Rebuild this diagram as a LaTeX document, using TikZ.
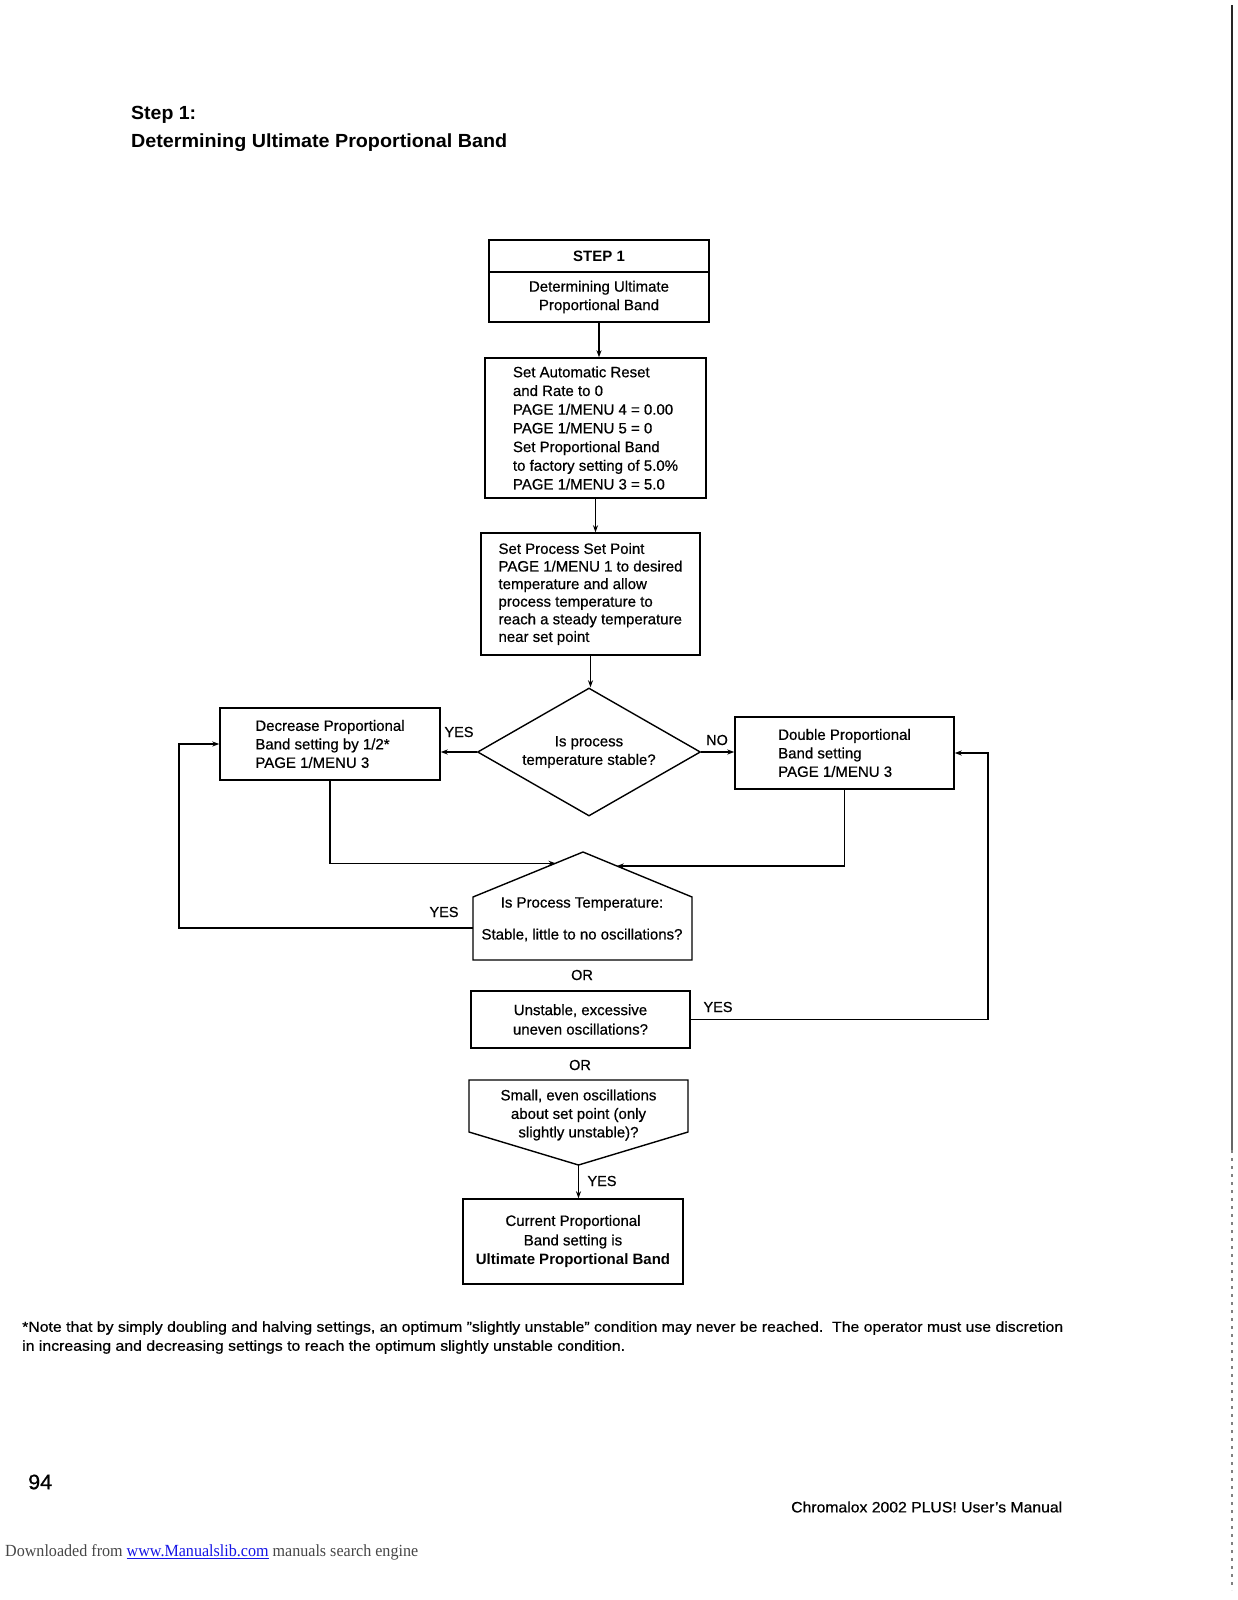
\documentclass[tikz,border=0pt]{standalone}
\usepackage{graphicx}
\usepackage{fontspec}
\setmainfont{Liberation Sans}[UprightFeatures={FakeBold=0.6}]
\newfontfamily\serifdl{Liberation Serif}
\usetikzlibrary{shapes.geometric,arrows.meta,calc}
\definecolor{linkblue}{RGB}{20,20,230}
\definecolor{dlgray}{RGB}{70,70,70}
\begin{document}
\begin{tikzpicture}[x=1pt,y=-1pt,
  every node/.style={inner sep=0pt, font=\fontsize{15}{18.5}\selectfont},
  box/.style={draw, line width=1.4pt, align=left},
  cbox/.style={draw, line width=1.4pt, align=center},
  lbl/.style={font=\fontsize{14.5}{16}\selectfont},
  conn/.style={line width=1.4pt, line join=miter},
  arr/.style={line width=1.4pt, -{Stealth[length=7pt,width=5pt]}},
  txt/.style={anchor=west},
]
\useasboundingbox (0,0) rectangle (1237,1600);

% title
\node[txt] (t1) at (131,115) {\resizebox{65pt}{\height}{\fontsize{19}{22}\selectfont\bfseries Step 1:}};
\node[txt] (t2) at (131,143) {\resizebox{376pt}{\height}{\fontsize{19}{22}\selectfont\bfseries Determining Ultimate Proportional Band}};

% step 1 box
\node[cbox, minimum width=220pt, minimum height=32pt, font=\fontsize{15}{18.5}\selectfont\bfseries] (s1a) at (599,256) {STEP 1};
\node[cbox, minimum width=220pt, minimum height=50pt] (s1b) at (599,297) {Determining Ultimate\\Proportional Band};

\node[box, minimum width=221pt, minimum height=140pt, font=\fontsize{15}{18.7}\selectfont] (set) at (595.5,428)
 {Set Automatic Reset\\and Rate to 0\\PAGE 1/MENU 4 = 0.00\\PAGE 1/MENU 5 = 0\\Set Proportional Band\\to factory setting of 5.0\%\\PAGE 1/MENU 3 = 5.0};

\node[box, minimum width=219pt, minimum height=122pt, font=\fontsize{15}{17.6}\selectfont] (proc) at (590.5,594)
 {Set Process Set Point\\PAGE 1/MENU 1 to desired\\temperature and allow\\process temperature to\\reach a steady temperature\\near set point};

\node[draw, diamond, aspect=1.74, line width=1.4pt, minimum width=223pt, minimum height=128pt, align=center] (dia) at (589,752)
 {Is process\\temperature stable?};

\node[box, minimum width=220pt, minimum height=72pt] (dec) at (330,744)
 {Decrease Proportional\\Band setting by 1/2*\\PAGE 1/MENU 3};

\node[box, minimum width=219pt, minimum height=72pt] (dbl) at (844.5,753)
 {Double Proportional\\Band setting\\PAGE 1/MENU 3};

% pentagon (house)
\coordinate (pA) at (583,852);
\coordinate (pL) at (473,897);
\coordinate (pBL) at (473,960);
\coordinate (pBR) at (692,960);
\coordinate (pR) at (692,897);
\draw[conn] (pA) -- (pL) -- (pBL) -- (pBR) -- (pR) -- cycle;
\node (pq1) at (582,904) {Is Process Temperature:};
\node (pq2) at (582,935) {Stable, little to no oscillations?};
\coordinate (slopeL) at ($(pL)!0.75!(pA)$);
\coordinate (slopeR) at ($(pR)!0.69!(pA)$);
\coordinate (pLm) at (473,928);
\coordinate (loopL) at (179,928);

\node[lbl] (or1) at (582,975) {OR};

\node[cbox, minimum width=219pt, minimum height=57pt, font=\fontsize{15}{19.5}\selectfont] (unst) at (580.5,1019.5)
 {Unstable, excessive\\uneven oscillations?};
\coordinate (loopR) at (988,1019.5);

\node[lbl] (or2) at (580,1065) {OR};

% inverted pentagon
\coordinate (qTL) at (469,1080);
\coordinate (qTR) at (688,1080);
\coordinate (qR) at (688,1132);
\coordinate (qA) at (578.5,1165);
\coordinate (qL) at (469,1132);
\draw[conn] (qTL) -- (qTR) -- (qR) -- (qA) -- (qL) -- cycle;
\node[align=center] (smq) at (578.5,1115) {Small, even oscillations\\about set point (only\\slightly unstable)?};

\node[cbox, minimum width=220pt, minimum height=85pt, font=\fontsize{15}{19.5}\selectfont] (fin) at (573,1241.5)
 {Current Proportional\\Band setting is\\\textbf{Ultimate Proportional Band}};

% connectors
\draw[arr] (s1b.south) -- (s1b.south |- set.north);
\draw[arr] (set.south) -- (set.south |- proc.north);
\draw[arr] (proc.south) -- (proc.south |- dia.north);
\draw[arr] (dia.west) -- (dia.west -| dec.east);
\draw[arr] (dia.east) -- (dia.east -| dbl.west);
\draw[arr] (dec.south) |- (slopeL);
\draw[arr] (dbl.south) |- (slopeR);
\draw[arr] (pLm) -- (loopL) |- (dec.west);
\draw[arr] (unst.east) -- (loopR) |- (dbl.east);
\draw[arr] (qA) -- (qA |- fin.north);

% labels
\node[lbl] (ly1) at (459,732) {YES};
\node[lbl] (ln1) at (717,740) {NO};
\node[lbl] (ly2) at (444,912) {YES};
\node[lbl] (ly3) at (718,1007) {YES};
\node[lbl] (ly4) at (602,1181) {YES};

% footnote
\node[txt] (fn1) at (22,1328) {\resizebox{1041pt}{\height}{\fontsize{14.5}{17}\selectfont *Note that by simply doubling and halving settings, an optimum "slightly unstable" condition may never be reached.\ \ The operator must use discretion}};
\node[txt] (fn2) at (22,1347) {\resizebox{603pt}{\height}{\fontsize{14.5}{17}\selectfont in increasing and decreasing settings to reach the optimum slightly unstable condition.}};

% footer
\node[txt] (pg) at (28,1482) {\resizebox{24pt}{\height}{\fontsize{21}{24}\selectfont 94}};
\node[txt] (man) at (791,1507) {\resizebox{271pt}{\height}{\fontsize{15}{18}\selectfont Chromalox 2002 PLUS! User's Manual}};

\node[txt] (dl) at (5,1552) {\resizebox{413pt}{\height}{\serifdl\fontsize{17}{20}\selectfont\color{dlgray}Downloaded from \textcolor{linkblue}{\underline{www.Manualslib.com}} manuals search engine}};

% scan edge
\draw[line width=2.5pt, black!85] (1232,5) -- (1232,700);
\draw[line width=1.5pt, black!60] (1232,700) -- (1232,1150);
\draw[line width=1.2pt, black!50, dash pattern=on 3pt off 5pt] (1232,1150) -- (1232,1590);
\end{tikzpicture}
\end{document}
